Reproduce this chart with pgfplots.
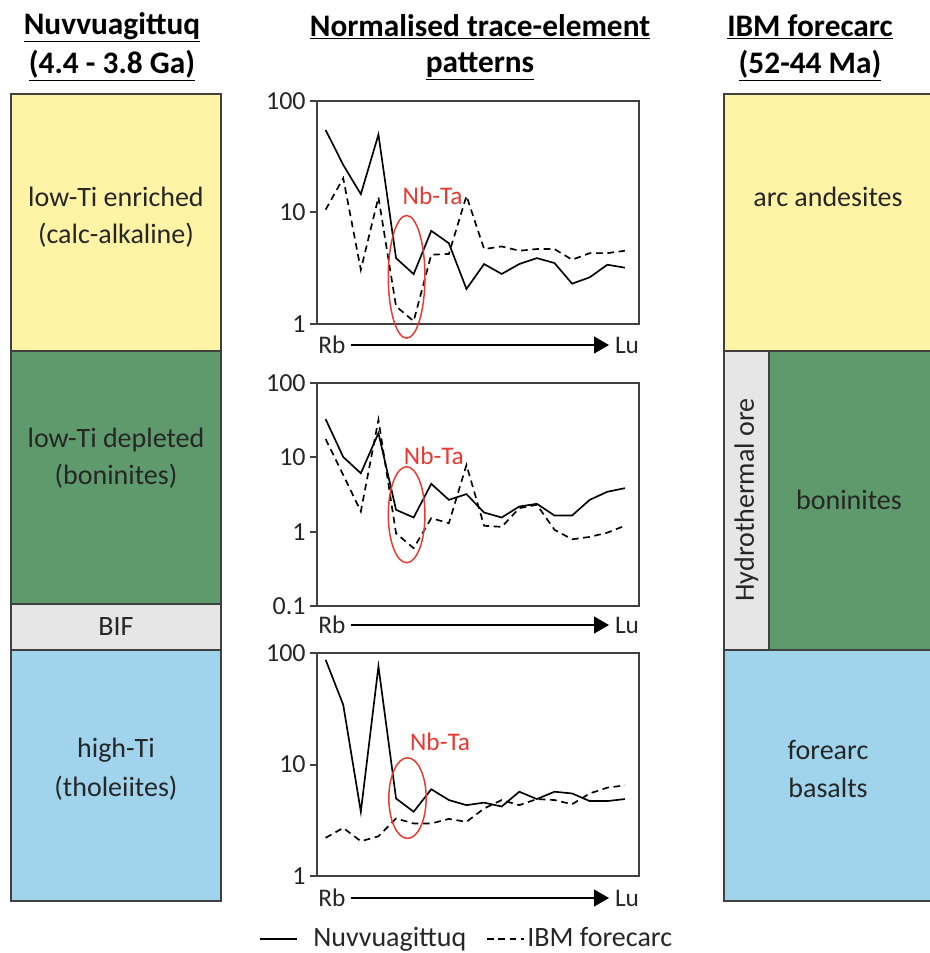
\documentclass[border=0pt]{standalone}
\usepackage{pgfplots}
\pgfplotsset{compat=1.18}
\usepackage{fontspec}
\setmainfont{Carlito}
\usetikzlibrary{arrows.meta}
\definecolor{boxyellow}{HTML}{FFF4A6}
\definecolor{boxgreen}{HTML}{5E9A6C}
\definecolor{boxgray}{HTML}{E6E6E6}
\definecolor{boxblue}{HTML}{A0D4EC}
\definecolor{frame}{HTML}{404040}
\definecolor{nbred}{HTML}{E8382F}
\tikzset{nuv/.style={black, line width=1.25pt, mark=none},
  ibm/.style={black, line width=1.25pt, dash pattern=on 5pt off 3.5pt, mark=none},
  nbell/.style={nbred, line width=1.1pt},
  nblab/.style={text=nbred, font=\fontsize{19}{19}\selectfont}}
\begin{document}
\begin{tikzpicture}
\useasboundingbox (0pt,0pt) rectangle (696.75pt,-714.75pt);
\begin{scope}[x=0.75pt,y=-0.75pt]
% titles
\begin{scope}[font=\bfseries\fontsize{23.5}{23.5}\selectfont]
\node at (112,27) {\underline{Nuvvuagittuq}};
\node at (112,66) {\underline{(4.4 - 3.8 Ga)}};
\node at (480,27) {\underline{Normalised trace-element}};
\node at (480,66) {\underline{patterns}};
\node at (810,27) {\underline{IBM forecarc}};
\node at (810,66) {\underline{(52-44 Ma)}};
\end{scope}
% columns
\begin{scope}[draw=frame, line width=1.5pt]
\filldraw[fill=boxyellow] (11,94) rectangle (221,351);
\filldraw[fill=boxgreen] (11,351) rectangle (221,604);
\filldraw[fill=boxgray] (11,604) rectangle (221,650);
\filldraw[fill=boxblue] (11,650) rectangle (221,901);
\filldraw[fill=boxyellow] (724,94) rectangle (932,351);
\filldraw[fill=boxgray] (724,351) rectangle (769,650);
\filldraw[fill=boxgreen] (769,351) rectangle (932,650);
\filldraw[fill=boxblue] (724,650) rectangle (932,901);
\end{scope}
\begin{scope}[font=\fontsize{21}{21}\selectfont, text=black!85]
\node at (116,197) {low-Ti enriched};
\node at (116,235) {(calc-alkaline)};
\node at (116,440) {low-Ti depleted};
\node at (116,476) {(boninites)};
\node at (116,627) {BIF};
\node at (116,750) {high-Ti};
\node at (116,788) {(tholeiites)};
\node at (828,197) {arc andesites};
\node at (849,500) {boninites};
\node at (828,750) {forearc};
\node at (828,788) {basalts};
\node[rotate=90] at (746.5,500) {Hydrothermal ore};
\end{scope}
% Rb -> Lu arrows
\begin{scope}[font=\fontsize{19}{19}\selectfont, text=black!85]
\foreach \yy in {345,625,898} {
  \node at (332,\yy) {Rb};
  \node at (627,\yy) {Lu};
  \draw[line width=0.8pt, -{Triangle[length=11.25pt,width=12.75pt]}] (351,\yy) -- (609,\yy);
}
\end{scope}
% legend
\draw[line width=1.25pt] (260,939) -- (297,939);
\node[anchor=base west, font=\fontsize{21}{21}\selectfont, text=black!85, inner sep=0pt] at (313,946) {Nuvvuagittuq};
\draw[line width=1.25pt, dash pattern=on 5pt off 3.5pt] (487,939) -- (524,939);
\node[anchor=base west, font=\fontsize{21}{21}\selectfont, text=black!85, inner sep=0pt] at (527,946) {IBM forecarc};
\end{scope}

% plot 1
\begin{axis}[scale only axis, width=241.5pt, height=167.25pt, anchor=north west,
  at={(237.75pt,-75.75pt)},
  ymode=log, xmin=-0.49, xmax=17.8, xtick=\empty,
  ytick pos=left, tick align=outside, major tick length=5pt,
  yminorticks=false,
  axis line style={frame, line width=1.5pt},
  major tick style={frame, line width=1.5pt},
  yticklabel style={font=\fontsize{19.5}{19.5}\selectfont, text=black!85},
  clip=false, ymin=1, ymax=100,
  ytick={1,10,100}, yticklabels={1,10,100}]
\addplot[nuv] coordinates {(0,55) (1,26.7) (2,14.6) (3,50) (4,3.9) (5,2.8) (6,6.85) (7,5.3) (8,2.06) (9,3.45) (10,2.81) (11,3.45) (12,3.9) (13,3.52) (14,2.3) (15,2.62) (16,3.4) (17,3.2)};
\addplot[ibm] coordinates {(0,10.6) (1,20.3) (2,3.07) (3,13.7) (4,1.44) (5,1.06) (6,4.18) (7,4.25) (8,14.1) (9,4.7) (10,4.96) (11,4.54) (12,4.7) (13,4.7) (14,3.77) (15,4.32) (16,4.32) (17,4.54)};
\draw[nbell] (axis cs:4.6,2.65) ellipse [x radius=13.75pt, y radius=46pt];
\node[nblab] at (axis cs:6.08,14.1) {Nb-Ta};
\end{axis}

% plot 2
\begin{axis}[scale only axis, width=241.5pt, height=167.25pt, anchor=north west,
  at={(237.75pt,-287.25pt)},
  ymode=log, xmin=-0.49, xmax=17.8, xtick=\empty,
  ytick pos=left, tick align=outside, major tick length=5pt,
  yminorticks=false,
  axis line style={frame, line width=1.5pt},
  major tick style={frame, line width=1.5pt},
  yticklabel style={font=\fontsize{19.5}{19.5}\selectfont, text=black!85},
  clip=false, ymin=0.1, ymax=100,
  ytick={0.1,1,10,100}, yticklabels={0.1,1,10,100}]
\addplot[nuv] coordinates {(0,32.7) (1,10.1) (2,6.1) (3,21.2) (4,1.97) (5,1.55) (6,4.4) (7,2.68) (8,3.2) (9,1.81) (10,1.55) (11,2.18) (12,2.37) (13,1.65) (14,1.65) (15,2.68) (16,3.44) (17,3.85)};
\addplot[ibm] coordinates {(0,17.6) (1,5.8) (2,1.87) (3,32) (4,0.95) (5,0.6) (6,1.52) (7,1.3) (8,7.9) (9,1.2) (10,1.16) (11,2.07) (12,2.3) (13,1.06) (14,0.79) (15,0.85) (16,0.97) (17,1.2)};
\draw[nbell] (axis cs:4.6,1.69) ellipse [x radius=13.75pt, y radius=36pt];
\node[nblab] at (axis cs:6.15,10.4) {Nb-Ta};
\end{axis}

% plot 3
\begin{axis}[scale only axis, width=241.5pt, height=167.25pt, anchor=north west,
  at={(237.75pt,-489.75pt)},
  ymode=log, xmin=-0.49, xmax=17.8, xtick=\empty,
  ytick pos=left, tick align=outside, major tick length=5pt,
  yminorticks=false,
  axis line style={frame, line width=1.5pt},
  major tick style={frame, line width=1.5pt},
  yticklabel style={font=\fontsize{19.5}{19.5}\selectfont, text=black!85},
  clip=false, ymin=1, ymax=100,
  ytick={1,10,100}, yticklabels={1,10,100}]
\addplot[nuv] coordinates {(0,87) (1,34.3) (2,3.77) (3,75.9) (4,4.96) (5,3.77) (6,6.0) (7,4.8) (8,4.32) (9,4.55) (10,4.2) (11,5.7) (12,4.9) (13,5.7) (14,5.5) (15,4.7) (16,4.7) (17,4.9)};
\addplot[ibm] coordinates {(0,2.2) (1,2.7) (2,2.05) (3,2.27) (4,3.28) (5,2.96) (6,2.96) (7,3.25) (8,3.06) (9,4.03) (10,4.8) (11,4.32) (12,4.9) (13,4.8) (14,4.4) (15,5.5) (16,6.2) (17,6.5)};
\draw[nbell] (axis cs:4.65,5.0) ellipse [x radius=14pt, y radius=30.25pt];
\node[nblab] at (axis cs:6.5,16) {Nb-Ta};
\end{axis}
\end{tikzpicture}
\end{document}
